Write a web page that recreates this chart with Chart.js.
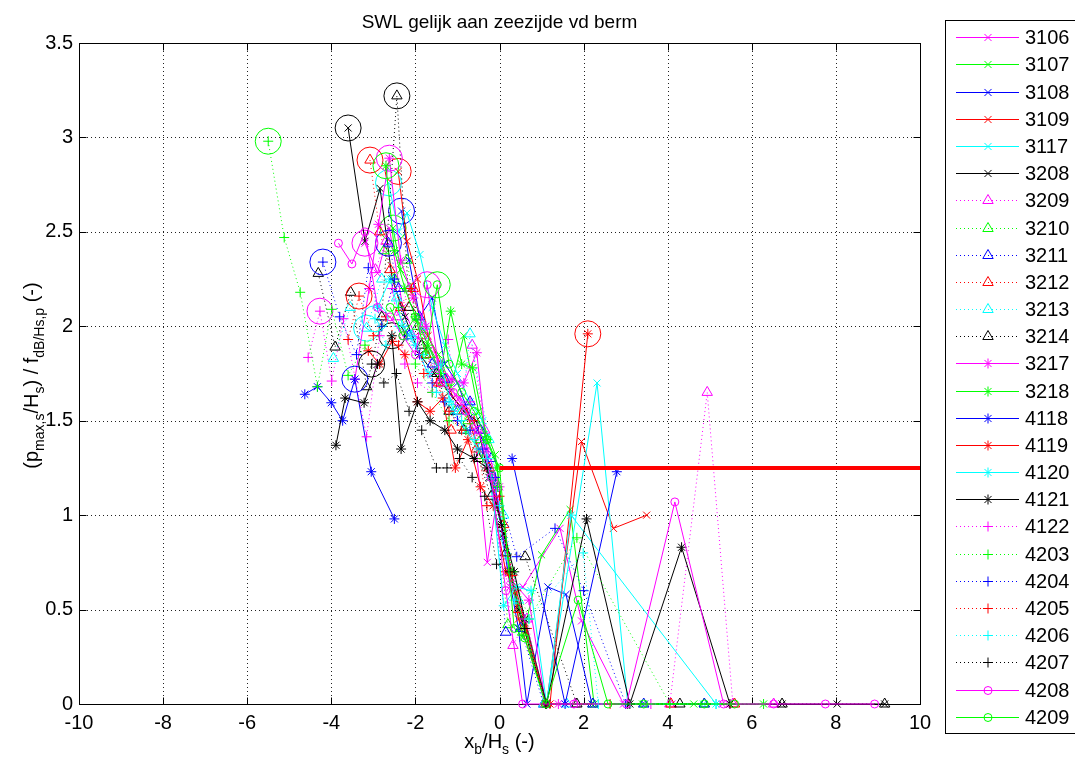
<!DOCTYPE html>
<html>
<head>
<meta charset="utf-8">
<script src="https://cdn.jsdelivr.net/npm/chart.js@4.4.1/dist/chart.umd.min.js"></script>
<style>
html, body { margin: 0; padding: 0; background: #fff; overflow: hidden; }
</style>
</head>
<body>
<canvas id="chart" width="1075" height="760"></canvas>
<script>
const FONT = '"Liberation Sans", Arial, sans-serif';

// run names, in legend order
const runNames = ['3106', '3107', '3108', '3109', '3117', '3208', '3209', '3210', '3211', '3212', '3213', '3214',
    '3217', '3218', '4118', '4119', '4120', '4121', '4122', '4203', '4204', '4205', '4206', '4207', '4208', '4209'];

const xTicks = [-10, -8, -6, -4, -2, 0, 2, 4, 6, 8, 10];
const yTicks = [0, 0.5, 1, 1.5, 2, 2.5, 3, 3.5];

// x_b/H_s and normalised pressure per run
const x3106 = [-3.20, -2.90, -2.62, -2.30, -2.00, -1.65, -1.30, -0.95, -0.60, -0.29, -0.05, 0.25, 0.56, 1.44, 1.95, 2.95, 4.10, 5.30];
const y3106 = [2.44, 2.28, 2.52, 2.10, 1.95, 1.88, 1.70, 1.62, 1.45, 0.75, 1.10, 0.62, 0.62, 0.93, 0.44, 0, 0, 0];
const x3107 = [-2.53, -2.35, -2.10, -1.80, -1.45, -1.15, -0.85, -0.50, -0.10, 0.25, 0.55, 1.00, 1.68, 2.25, 3.40, 4.62];
const y3107 = [2.52, 2.30, 2.20, 1.98, 1.85, 1.68, 1.95, 1.55, 1.32, 0.70, 0.35, 0.79, 1.03, 0, 0, 0];
const x3108 = [-2.33, -2.15, -1.90, -1.60, -1.30, -1.00, -0.70, -0.40, -0.10, 0.20, 0.45, 0.65, 1.15, 1.58, 2.20, 3.45];
const y3108 = [2.61, 2.35, 2.05, 2.15, 1.80, 1.70, 1.52, 1.40, 1.15, 0.70, 0.40, 0, 0.62, 0.58, 0, 0];
const x3109 = [-2.41, -2.20, -1.95, -1.70, -1.40, -1.10, -0.80, -0.50, -0.20, 0.10, 0.45, 1.12, 1.95, 2.71, 3.50];
const y3109 = [2.82, 2.45, 2.25, 1.95, 1.80, 1.62, 1.55, 1.35, 1.20, 0.90, 0.45, 0, 1.39, 0.93, 1.00];
const x3117 = [-2.64, -2.40, -2.20, -1.89, -1.60, -1.30, -1.00, -0.70, -0.40, -0.15, 0.15, 0.45, 1.12, 2.32, 3.05, 4.85];
const y3117 = [2.76, 2.50, 2.60, 2.38, 2.10, 1.90, 1.75, 1.60, 1.50, 1.05, 0.78, 0.52, 0, 1.70, 0, 0];
const x3208 = [-3.60, -3.20, -2.84, -2.55, -2.25, -1.90, -1.55, -1.20, -0.85, -0.55, -0.25, 0.10, 0.45, 1.10, 6.72, 8.03, 9.16];
const y3208 = [3.05, 2.45, 2.73, 2.25, 2.05, 1.85, 1.75, 1.65, 1.55, 1.50, 1.20, 0.90, 0.50, 0, 0, 0, 0];
const x3209 = [-2.95, -2.70, -2.45, -2.15, -1.85, -1.55, -1.25, -0.95, -0.65, -0.35, -0.05, 0.32, 0.65, 1.05, 1.80, 4.05, 4.94, 5.55, 6.52];
const y3209 = [2.30, 2.45, 2.05, 2.20, 1.95, 1.75, 1.72, 1.60, 1.90, 1.45, 1.15, 0.31, 0.45, 0, 0, 0, 1.65, 0, 0];
const x3210 = [-2.75, -2.50, -2.20, -1.95, -1.65, -1.35, -1.05, -0.75, -0.45, -0.15, 0.20, 0.55, 1.10, 2.22, 4.87];
const y3210 = [2.40, 2.25, 2.35, 2.00, 1.85, 1.70, 1.55, 1.50, 1.40, 1.20, 0.42, 0.38, 0, 0, 0];
const x3211 = [-2.64, -2.40, -2.15, -1.90, -1.60, -1.30, -1.00, -0.70, -0.45, -0.20, 0.15, 0.50, 1.05, 2.22, 3.43, 4.87];
const y3211 = [2.44, 2.20, 1.95, 2.05, 1.80, 1.72, 1.55, 1.60, 1.45, 1.30, 0.38, 0.40, 0, 0, 0, 0];
const x3212 = [-3.08, -2.85, -2.60, -2.35, -2.05, -1.75, -1.45, -1.15, -0.85, -0.55, -0.25, 0.10, 0.45, 1.10, 4.08, 5.59];
const y3212 = [2.88, 2.50, 2.30, 2.10, 2.20, 1.85, 1.70, 1.45, 1.55, 1.35, 1.25, 0.95, 0.50, 0, 0, 0];
const x3213 = [-3.95, -3.55, -3.16, -2.80, -2.45, -2.10, -1.80, -1.50, -1.20, -0.90, -0.70, -0.25, 0.10, 0.45, 1.05, 1.60];
const y3213 = [1.83, 2.10, 1.99, 2.25, 2.15, 1.95, 2.00, 1.75, 1.60, 1.55, 1.96, 1.40, 1.00, 0.55, 0, 0];
const x3214 = [-4.31, -3.91, -3.54, -3.16, -2.80, -2.44, -2.15, -1.85, -1.50, -1.20, -0.85, -0.50, -0.20, 0.15, 0.61, 1.84, 4.29, 6.72, 9.16];
const y3214 = [2.28, 1.89, 2.18, 1.68, 2.05, 3.22, 2.10, 1.90, 1.75, 1.55, 1.45, 1.30, 1.10, 0.80, 0.78, 0, 0, 0, 0];
const x3217 = [-3.44, -3.10, -2.88, -2.62, -2.35, -2.05, -1.75, -1.45, -1.15, -0.85, -0.54, -0.30, 0.00, 0.30, 0.70, 1.10, 1.40];
const y3217 = [1.72, 2.20, 2.54, 2.89, 2.35, 2.15, 2.00, 1.80, 1.72, 1.70, 1.86, 1.35, 1.15, 0.65, 0.55, 0, 0];
const x3218 = [-2.70, -2.50, -2.25, -2.00, -1.70, -1.40, -1.16, -0.90, -0.64, -0.30, -0.05, 0.25, 0.60, 1.10, 6.28];
const y3218 = [2.85, 2.40, 2.20, 2.05, 1.90, 1.75, 2.08, 1.80, 1.78, 1.40, 1.25, 0.70, 0.40, 0, 0];
const x4118 = [-4.63, -4.33, -4.00, -3.73, -3.44, -3.05, -2.50, 0.30, 0.30, 1.56, 2.79];
const y4118 = [1.64, 1.68, 1.595, 1.50, 1.72, 1.23, 0.98, null, 1.30, 0, 1.23];
const x4119 = [-3.12, -2.85, -2.55, -2.25, -1.95, -1.65, -1.35, -1.05, -0.75, -0.45, -0.15, 0.15, 0.40, 1.10, 1.20, 2.10];
const y4119 = [1.87, 1.80, 1.92, 1.85, 1.60, 1.55, 1.62, 1.25, 1.40, 1.15, 1.05, 0.70, 0.60, 0, 0, 1.96];
const x4120 = [-2.90, -2.60, -2.30, -2.00, -1.70, -1.40, -1.10, -0.80, -0.50, -0.20, 0.10, 0.40, 0.75, 1.12, 1.70, 5.15];
const y4120 = [2.10, 2.25, 2.00, 1.90, 1.75, 1.80, 1.55, 1.45, 1.35, 1.20, 0.52, 0.62, 0.60, 0, 1.00, 0];
const x4121 = [-3.89, -3.67, -3.22, -2.90, -2.56, -2.34, -1.95, -1.65, -1.30, -1.00, -0.60, -0.30, 0.05, 0.35, 0.60, 1.12, 2.07, 3.10, 4.33, 5.48];
const y4121 = [1.37, 1.62, 1.595, 1.80, 1.95, 1.35, 1.60, 1.50, 1.45, 1.35, 1.30, 1.25, 0.95, 0.70, 0.45, 0, 0.98, 0, 0.83, 0];
const x4122 = [-4.55, -4.27, -3.99, -3.71, -3.16, -2.85, -2.55, -2.25, -1.95, -1.60, -1.22, -1.00, -0.70, -0.40, -0.10, 0.25, 0.60, 1.10, 3.60];
const y4122 = [1.835, 2.08, 1.71, 2.04, 1.415, 1.95, 2.20, 1.80, 1.70, 1.65, 1.93, 1.50, 1.60, 1.30, 1.10, 0.68, 0.45, 0, 0];
const x4203 = [-5.50, -5.12, -4.74, -4.33, -3.99, -3.60, -3.20, -2.80, -2.40, -2.00, -1.60, -1.20, -0.80, -0.40, -0.05, 0.30, 0.70, 1.84, 4.05];
const y4203 = [2.98, 2.47, 2.18, 1.68, 2.09, 1.74, 1.90, 2.00, 2.10, 1.80, 1.65, 1.50, 1.45, 1.30, 1.15, 0.70, 0.45, 0.88, 0];
const x4204 = [-4.20, -3.80, -3.40, -3.12, -2.80, -2.50, -2.20, -1.90, -1.60, -1.30, -1.00, -0.70, -0.40, -0.10, 0.41, 1.32, 2.00, 3.00];
const y4204 = [2.34, 2.05, 1.85, 2.31, 2.00, 2.25, 1.95, 1.85, 1.70, 1.60, 1.50, 1.45, 1.35, 1.20, 0.78, 0.93, 0.60, 0];
const x4205 = [-3.60, -3.34, -3.00, -2.70, -2.40, -2.10, -1.80, -1.50, -1.20, -0.90, -0.60, -0.30, 0.00, 0.30, 0.65, 1.10, 2.63];
const y4205 = [1.93, 2.16, 1.95, 2.05, 1.90, 2.20, 1.75, 1.70, 1.55, 1.45, 1.50, 1.05, 1.10, 0.68, 0.40, 0, 0];
const x4206 = [-2.96, -2.70, -2.40, -2.10, -1.80, -1.50, -1.20, -0.90, -0.60, -0.30, 0.00, 0.35, 0.70, 1.99, 2.35, 5.15];
const y4206 = [2.04, 1.90, 2.00, 1.95, 1.85, 1.65, 1.60, 1.50, 1.40, 1.30, 1.05, 0.55, 0.45, 0.80, 0, 0];
const x4207 = [-3.04, -2.75, -2.45, -2.15, -1.85, -1.50, -1.25, -0.95, -0.65, -0.35, -0.07, 0.25, 0.60, 1.10, 3.05];
const y4207 = [1.80, 1.70, 1.75, 1.55, 1.45, 1.25, 1.25, 1.30, 1.20, 1.10, 0.74, 0.70, 0.40, 0, 0];
const x4208 = [-3.83, -3.51, -3.20, -2.90, -2.60, -2.30, -2.00, -1.72, -1.40, -1.10, -0.80, -0.50, -0.20, 0.15, 0.55, 1.77, 3.02, 4.17, 5.33, 6.52, 7.75, 8.92];
const y4208 = [2.44, 2.33, 2.50, 2.10, 2.05, 1.95, 1.85, 2.22, 1.70, 1.65, 1.55, 1.45, 1.20, 0.60, 0, 0, 0, 1.07, 0, 0, 0, 0];
const x4209 = [-2.60, -2.30, -2.00, -1.75, -1.48, -1.20, -0.90, -0.60, -0.30, 0.00, 0.35, 0.60, 1.10, 1.87, 2.58, 3.43, 4.87, 5.59];
const y4209 = [2.10, 1.95, 2.05, 1.85, 2.22, 1.80, 1.65, 1.55, 1.40, 1.25, 0.40, 0.35, 0, 0.55, 0, 0, 0, 0];

// index of the encircled point of each run (-1: none)
const peakIndex = [0, 0, 0, 0, 0, 0, -1, -1, 0, 0, 2, 5, 3, 0, 4, 15, -1, 4, 1, 0, 0, 1, 0, 0, 7, 4];

// threshold line
const limitX = [0, 10];
const limitY = [1.25, 1.25];

const seriesX = [x3106, x3107, x3108, x3109, x3117, x3208, x3209, x3210, x3211, x3212, x3213, x3214,
    x3217, x3218, x4118, x4119, x4120, x4121, x4122, x4203, x4204, x4205, x4206, x4207, x4208, x4209];
const seriesY = [y3106, y3107, y3108, y3109, y3117, y3208, y3209, y3210, y3211, y3212, y3213, y3214,
    y3217, y3218, y4118, y4119, y4120, y4121, y4122, y4203, y4204, y4205, y4206, y4207, y4208, y4209];

// matlab line specs
const mColors = { m: '#ff00ff', g: '#00ff00', b: '#0000ff', r: '#ff0000', c: '#00ffff', k: '#000000' };
const colorCycle = ['m', 'g', 'b', 'r', 'c', 'k'];
function styleOf(i) {
    let marker, dotted;
    if (i < 6) { marker = 'crossRot'; dotted = false; }
    else if (i < 12) { marker = 'triangle'; dotted = true; }
    else if (i < 18) { marker = 'star'; dotted = false; }
    else if (i < 24) { marker = 'cross'; dotted = true; }
    else { marker = 'circle'; dotted = false; }
    const radius = { crossRot: 5, triangle: 6, star: 5, cross: 5, circle: 4 }[marker];
    return { color: mColors[colorCycle[i % 6]], marker, dotted, radius };
}

const datasets = [];
datasets.push({
    label: 'limit',
    data: limitX.map((x, i) => ({ x, y: limitY[i] })),
    showLine: true,
    borderColor: '#ff0000',
    borderWidth: 4,
    pointRadius: 0,
    order: -1
});
runNames.forEach((name, i) => {
    const st = styleOf(i);
    datasets.push({
        label: name,
        data: seriesX[i].map((x, j) => ({ x, y: seriesY[i][j] })),
        showLine: true,
        spanGaps: false,
        borderColor: st.color,
        backgroundColor: 'transparent',
        borderWidth: 1,
        borderDash: st.dotted ? [1, 3] : [],
        pointStyle: st.marker,
        pointRadius: st.radius,
        pointBorderWidth: 1,
        pointBorderColor: st.color,
        pointBackgroundColor: 'transparent',
        clip: false,
        order: 30 - i
    });
});
runNames.forEach((name, i) => {
    const k = peakIndex[i];
    if (k < 0) return;
    const st = styleOf(i);
    datasets.push({
        label: name + ' max',
        data: [{ x: seriesX[i][k], y: seriesY[i][k] }],
        showLine: false,
        pointStyle: 'circle',
        pointRadius: 13,
        pointBorderWidth: 1,
        pointBorderColor: st.color,
        pointBackgroundColor: 'transparent',
        clip: false,
        order: 30 - i
    });
});

function drawMarker(ctx, style, x, y, r) {
    ctx.beginPath();
    if (style === 'cross' || style === 'star') {
        ctx.moveTo(x - r, y); ctx.lineTo(x + r, y);
        ctx.moveTo(x, y - r); ctx.lineTo(x, y + r);
    }
    if (style === 'crossRot' || style === 'star') {
        const d = r * Math.SQRT1_2;
        ctx.moveTo(x - d, y - d); ctx.lineTo(x + d, y + d);
        ctx.moveTo(x - d, y + d); ctx.lineTo(x + d, y - d);
    }
    if (style === 'triangle') {
        let a = 0;
        ctx.moveTo(x + Math.sin(a) * r, y - Math.cos(a) * r);
        a += Math.PI * 2 / 3;
        ctx.lineTo(x + Math.sin(a) * r, y - Math.cos(a) * r);
        a += Math.PI * 2 / 3;
        ctx.lineTo(x + Math.sin(a) * r, y - Math.cos(a) * r);
        ctx.closePath();
    }
    if (style === 'circle') {
        ctx.arc(x, y, r, 0, Math.PI * 2);
    }
    ctx.stroke();
}

// text with subscripts, parts = [[text, isSub], ...]
function drawRich(ctx, parts, cx, baseY, size) {
    const subSize = Math.round(size * 0.72);
    let total = 0;
    parts.forEach(p => {
        ctx.font = (p[1] ? subSize : size) + 'px ' + FONT;
        total += ctx.measureText(p[0]).width;
    });
    let x = cx - total / 2;
    ctx.textAlign = 'left';
    ctx.textBaseline = 'alphabetic';
    parts.forEach(p => {
        ctx.font = (p[1] ? subSize : size) + 'px ' + FONT;
        ctx.fillText(p[0], x, baseY + (p[1] ? size * 0.3 : 0));
        x += ctx.measureText(p[0]).width;
    });
}

const axesPlugin = {
    id: 'matlabAxes',
    beforeDatasetsDraw(chart) {
        const { ctx, chartArea: a, scales } = chart;
        ctx.save();
        ctx.strokeStyle = '#222';
        ctx.lineWidth = 1;
        ctx.setLineDash([1, 3]);
        xTicks.forEach(v => {
            if (v === xTicks[0] || v === xTicks[xTicks.length - 1]) return;
            const px = Math.round(scales.x.getPixelForValue(v)) + 0.5;
            ctx.beginPath(); ctx.moveTo(px, a.bottom); ctx.lineTo(px, a.top); ctx.stroke();
        });
        yTicks.forEach(v => {
            if (v === yTicks[0] || v === yTicks[yTicks.length - 1]) return;
            const py = Math.round(scales.y.getPixelForValue(v)) + 0.5;
            ctx.beginPath(); ctx.moveTo(a.left, py); ctx.lineTo(a.right, py); ctx.stroke();
        });
        ctx.setLineDash([]);
        ctx.strokeStyle = '#000';
        const L = Math.round(a.left) + 0.5, R = Math.round(a.right) + 0.5;
        const T = Math.round(a.top) + 0.5, B = Math.round(a.bottom) + 0.5;
        ctx.strokeRect(L, T, R - L, B - T);
        ctx.beginPath();
        xTicks.forEach(v => {
            const px = Math.round(scales.x.getPixelForValue(v)) + 0.5;
            ctx.moveTo(px, B); ctx.lineTo(px, B - 7);
            ctx.moveTo(px, T); ctx.lineTo(px, T + 7);
        });
        yTicks.forEach(v => {
            const py = Math.round(scales.y.getPixelForValue(v)) + 0.5;
            ctx.moveTo(L, py); ctx.lineTo(L + 7, py);
            ctx.moveTo(R, py); ctx.lineTo(R - 7, py);
        });
        ctx.stroke();
        ctx.restore();
    },
    afterDraw(chart) {
        const { ctx, chartArea: a } = chart;
        const cx = (a.left + a.right) / 2;
        ctx.save();
        ctx.fillStyle = '#000';
        ctx.font = '19px ' + FONT;
        ctx.textAlign = 'center';
        ctx.textBaseline = 'alphabetic';
        ctx.fillText('SWL gelijk aan zeezijde vd berm', cx, 28);

        drawRich(ctx, [['x', false], ['b', true], ['/H', false], ['s', true], [' (-)', false]], cx, 748, 20);

        ctx.save();
        ctx.translate(38, (a.top + a.bottom) / 2 + 2);
        ctx.rotate(-Math.PI / 2);
        drawRich(ctx, [['(p', false], ['max,s', true], ['/H', false], ['s', true], [') / f', false],
            ['dB/Hs,p', true], [' (-)', false]], 0, 0, 20);
        ctx.restore();

        // legend
        const lx = 945.5, ly = 20.5, lb = 733.5;
        ctx.fillStyle = '#fff';
        ctx.fillRect(lx, ly, 1080 - lx, lb - ly);
        ctx.strokeStyle = '#000';
        ctx.lineWidth = 1;
        ctx.strokeRect(lx, ly, 1080 - lx, lb - ly);
        const step = (716.7 - 37.3) / 25;
        runNames.forEach((name, i) => {
            const st = styleOf(i);
            const y = Math.round(37.3 + i * step) + 0.5;
            ctx.strokeStyle = st.color;
            ctx.lineWidth = 1;
            ctx.setLineDash(st.dotted ? [1, 3] : []);
            ctx.beginPath(); ctx.moveTo(956, y); ctx.lineTo(1019, y); ctx.stroke();
            ctx.setLineDash([]);
            drawMarker(ctx, st.marker, 988, y, st.radius);
            ctx.fillStyle = '#000';
            ctx.font = '20px ' + FONT;
            ctx.textAlign = 'left';
            ctx.textBaseline = 'middle';
            ctx.fillText(name, 1025, y + 1);
        });
        ctx.restore();
    }
};

new Chart(document.getElementById('chart').getContext('2d'), {
    type: 'scatter',
    data: { datasets },
    options: {
        responsive: false,
        animation: false,
        devicePixelRatio: 1,
        events: [],
        layout: { padding: { left: 0, right: 155, top: 43, bottom: 0 } },
        plugins: {
            legend: { display: false },
            tooltip: { enabled: false },
            title: { display: false }
        },
        scales: {
            x: {
                type: 'linear',
                min: -10,
                max: 10,
                afterBuildTicks: s => { s.ticks = xTicks.map(v => ({ value: v })); },
                afterFit: s => { s.height = 56; },
                grid: { display: false, drawTicks: false },
                border: { display: false },
                ticks: { color: '#000', font: { family: FONT, size: 20 }, padding: 7, maxRotation: 0, autoSkip: false,
                    callback: v => String(v) }
            },
            y: {
                type: 'linear',
                min: 0,
                max: 3.5,
                afterBuildTicks: s => { s.ticks = yTicks.map(v => ({ value: v })); },
                afterFit: s => { s.width = 79; },
                grid: { display: false, drawTicks: false },
                border: { display: false },
                ticks: { color: '#000', font: { family: FONT, size: 20 }, padding: 6, autoSkip: false,
                    callback: v => String(v) }
            }
        }
    },
    plugins: [axesPlugin]
});
</script>
</body>
</html>
